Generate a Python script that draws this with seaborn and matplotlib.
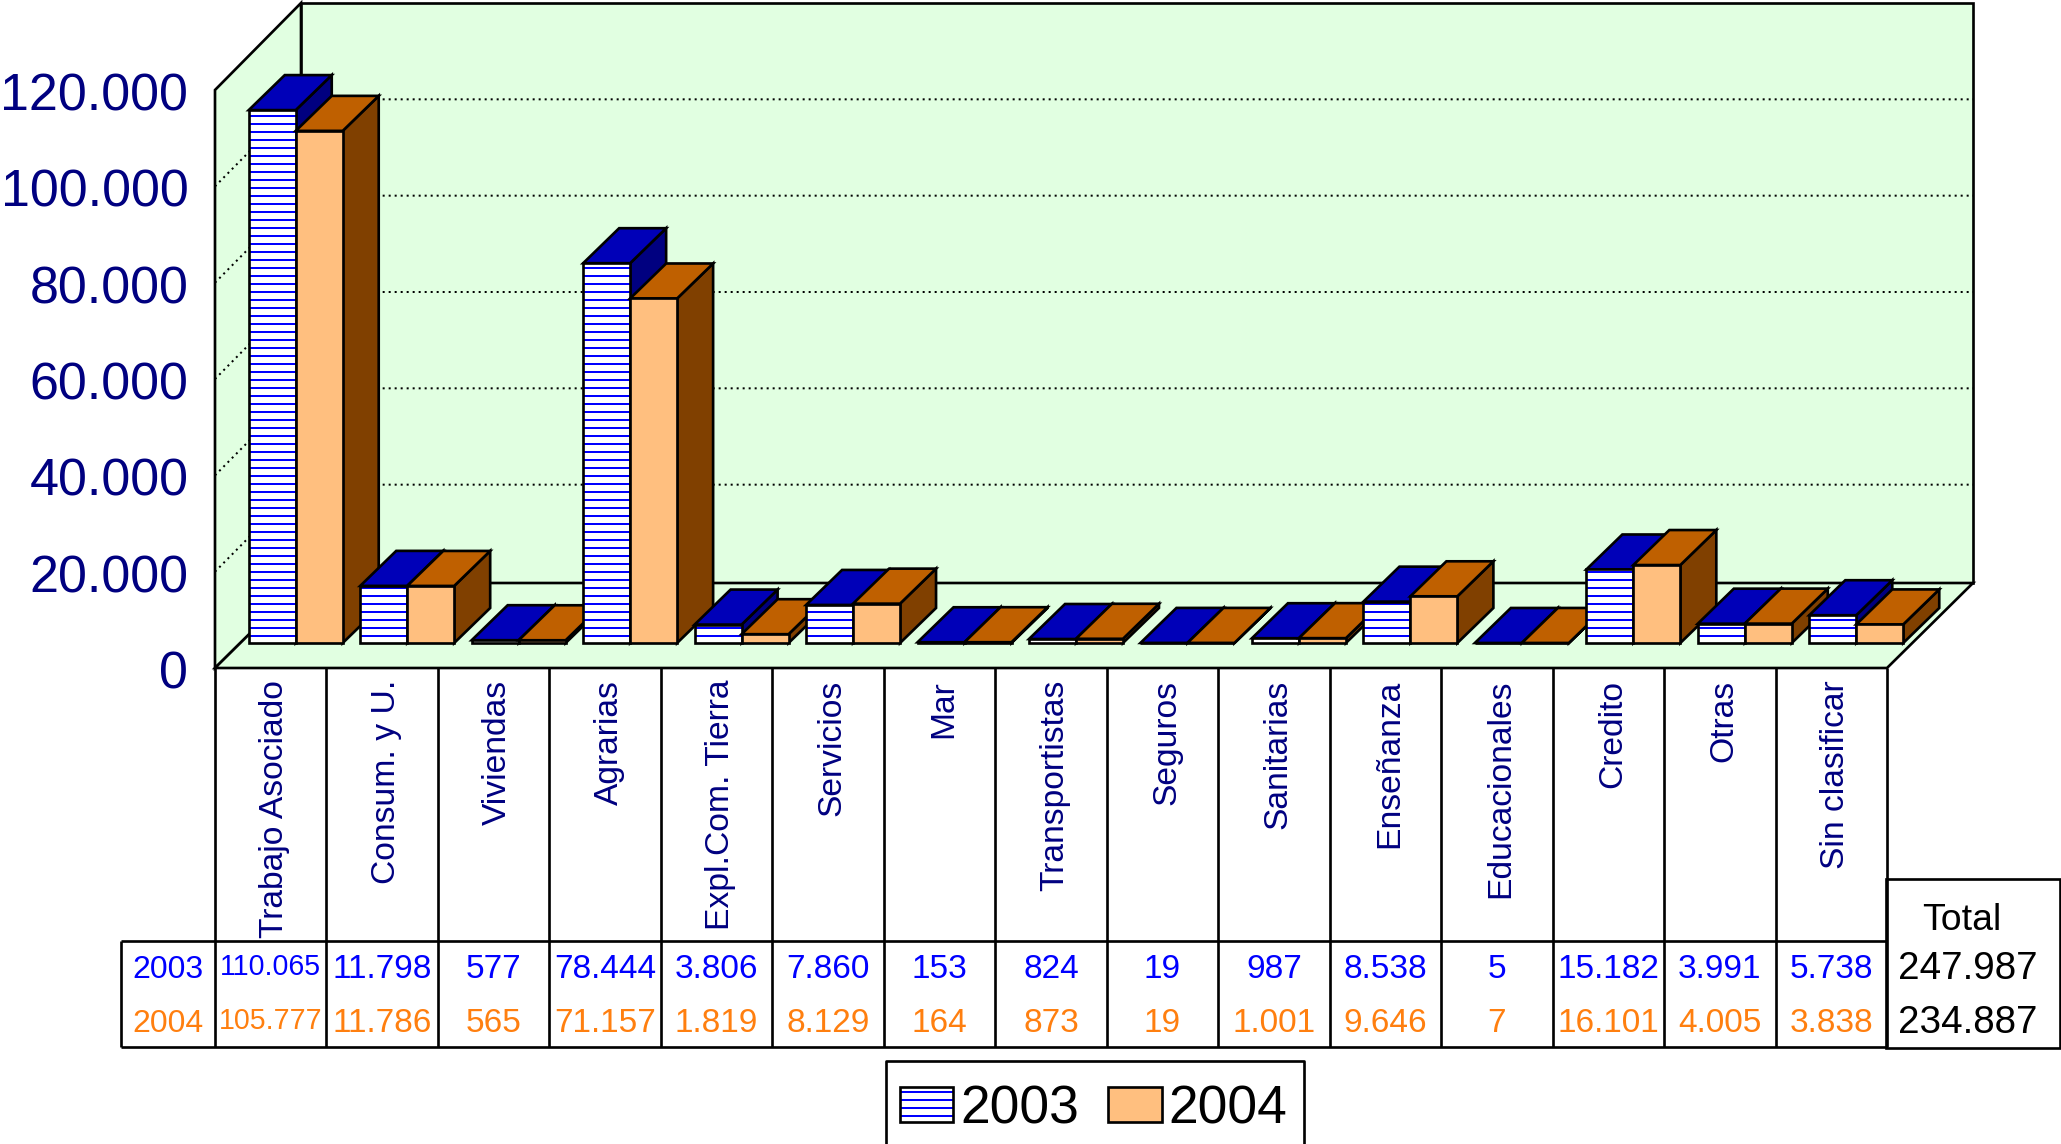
import matplotlib
matplotlib.use('Agg')
import matplotlib.pyplot as plt
from matplotlib.patches import Polygon, Rectangle
from matplotlib.colors import to_rgba
from matplotlib.transforms import ScaledTranslation
import pandas as pd
import seaborn as sns

categories = ['Trabajo Asociado', 'Consum. y U.', 'Viviendas', 'Agrarias', 'Expl.Com. Tierra',
              'Servicios', 'Mar', 'Transportistas', 'Seguros', 'Sanitarias',
              'Enseñanza', 'Educacionales', 'Credito', 'Otras', 'Sin clasificar']
values_2003 = [110065, 11798, 577, 78444, 3806, 7860, 153, 824, 19, 987, 8538, 5, 15182, 3991, 5738]
values_2004 = [105777, 11786, 565, 71157, 1819, 8129, 164, 873, 19, 1001, 9646, 7, 16101, 4005, 3838]
y_ticks = [0, 20000, 40000, 60000, 80000, 100000, 120000]
years = ['2003', '2004']


def es_num(v):
    return f'{v:,}'.replace(',', '.')


W, H, DPI = 2061, 1144, 96
PX_CAT = 1672 / 15       # pixels for one category
PX_VAL = 578 / 120000    # pixels for one unit of value, front of the box
PX_BAR = 581 / 120000    # same, plane of the bars
LW = 2


def box(l, t, r, b):
    return [l / W, 1 - b / H, (r - l) / W, (b - t) / H]


sns.set_theme(style='white')
plt.rcParams['font.family'] = ['Liberation Sans', 'DejaVu Sans']
plt.rcParams['hatch.linewidth'] = 1.5

df = pd.DataFrame({'cat': categories * 2,
                   'year': [years[0]] * 15 + [years[1]] * 15,
                   'value': values_2003 + values_2004})

fig = plt.figure(figsize=(W / DPI, H / DPI), dpi=DPI, facecolor='white')

# front plane of the box, carries the y ticks and category labels
ax_wall = fig.add_axes(box(215, 90, 1887, 668), zorder=1)
ax_wall.set_xlim(-0.5, 14.5)
ax_wall.set_ylim(0, 120000)
ax_wall.patch.set_visible(False)
sns.despine(ax=ax_wall, left=True, bottom=True)
ax_wall.set_yticks(y_ticks, [es_num(v) for v in y_ticks], color='#000080', fontsize=39)
ax_wall.set_xticks(range(15), categories, rotation=90, color='#000080', fontsize=25.2, va='top', ha='center')
ax_wall.tick_params(axis='y', length=0, pad=20)
ax_wall.tick_params(axis='x', length=0, pad=9)
for lab in ax_wall.get_xticklabels():
    lab.set_transform(lab.get_transform() + ScaledTranslation(4 / DPI, 0, fig.dpi_scale_trans))
for lab in ax_wall.get_yticklabels():
    lab.set_transform(lab.get_transform() + ScaledTranslation(0, -1.5 / DPI, fig.dpi_scale_trans))

wall_dx, wall_dy, floor_dy = 86 / PX_CAT, 87 / PX_VAL, 85 / PX_VAL
x0, x1 = -0.5, 14.5
top = 120000
wall = dict(fc='#E1FFE1', ec='black', lw=LW, clip_on=False)
ax_wall.add_patch(Polygon([(x0, 0), (x0 + wall_dx, floor_dy), (x0 + wall_dx, top + wall_dy), (x0, top)], **wall))
ax_wall.add_patch(Polygon([(x0 + wall_dx, floor_dy), (x1 + wall_dx, floor_dy), (x1 + wall_dx, top + wall_dy), (x0 + wall_dx, top + wall_dy)], **wall))
ax_wall.add_patch(Polygon([(x0, 0), (x1, 0), (x1 + wall_dx, floor_dy), (x0 + wall_dx, floor_dy)], **wall))
for v in y_ticks[1:-1]:
    ax_wall.plot([x0, x0 + wall_dx, x1 + wall_dx], [v, v + wall_dy, v + wall_dy],
                 color='black', lw=1.5, ls=(0, (1, 2)), clip_on=False)

# bars sit on a plane a bit behind the front of the box
ax = fig.add_axes(box(240, 62, 1912, 643), zorder=2)
sns.barplot(data=df, x='cat', y='value', hue='year', order=categories, hue_order=years,
            palette={'2003': 'white', '2004': '#FFBF7F'}, saturation=1, errorbar=None,
            width=0.843, gap=0, edgecolor='black', linewidth=LW, legend=False, ax=ax)
ax.set_xlim(-0.5, 14.5)
ax.set_ylim(0, 120000)
ax.axis('off')

bar_dx, bar_dy = 36 / PX_CAT, 35 / PX_BAR
shades = [('#0000B8', '#000080'), ('#BF6000', '#804000')]
for j, cont in enumerate(ax.containers):
    for i, bar in enumerate(cont):
        a, b, h = bar.get_x(), bar.get_x() + bar.get_width(), bar.get_height()
        z = 3 + 3 * (2 * i + j)
        ax.add_patch(Polygon([(b, 0), (b + bar_dx, bar_dy), (b + bar_dx, h + bar_dy), (b, h)],
                             fc=shades[j][1], ec='black', lw=LW, zorder=z, clip_on=False))
        ax.add_patch(Polygon([(a, h), (b, h), (b + bar_dx, h + bar_dy), (a + bar_dx, h + bar_dy)],
                             fc=shades[j][0], ec='black', lw=LW, zorder=z, clip_on=False))
        bar.set_zorder(z + 1)
        bar.set_clip_on(False)
        if j == 0:
            bar.set_hatch('--')
            bar._hatch_color = to_rgba('#0000FF')

# table and legend, in picture pixels
ax_px = fig.add_axes([0, 0, 1, 1], zorder=3)
ax_px.set_xlim(0, W)
ax_px.set_ylim(H, 0)
ax_px.axis('off')

edges = [215 + PX_CAT * i for i in range(16)]
ax_px.vlines(edges, 668, 1047, color='black', lw=LW)
ax_px.vlines(121, 941, 1047, color='black', lw=LW)
ax_px.hlines([941, 1047], 121, 1887, color='black', lw=LW)
ax_px.add_patch(Rectangle((1886, 879), 174, 169, fill=False, ec='black', lw=LW))

row_y = [970, 1024]
row_colors = ['#0000FF', '#FF7F0F']
for year, vals, y, c in zip(years, [values_2003, values_2004], row_y, row_colors):
    ax_px.text(168, y, year, color=c, fontsize=24, ha='center', va='center')
    for i, v in enumerate(vals):
        fs, dy = (21.5, -3) if i == 0 else (25, 0)
        ax_px.text(edges[i] + PX_CAT / 2, y + dy, es_num(v), color=c, fontsize=fs, ha='center', va='center')
    ax_px.text(1968, y - 1, es_num(sum(vals)), color='black', fontsize=29, ha='center', va='center')
ax_px.text(1962, 920, 'Total', color='black', fontsize=28, ha='center', va='center')

ax_px.plot([886, 886, 1304, 1304], [H, 1061, 1061, H], color='black', lw=LW, clip_on=False)
ax_px.legend([c[0] for c in ax.containers], years, loc='upper left', bbox_to_anchor=(900, 1084),
             bbox_transform=ax_px.transData, ncol=2, frameon=False, fontsize=40, borderpad=0,
             borderaxespad=0, handlelength=1.0, handleheight=0.64, handletextpad=0.13,
             columnspacing=0.55, labelcolor='black')

fig.savefig('out.png', dpi=DPI)
